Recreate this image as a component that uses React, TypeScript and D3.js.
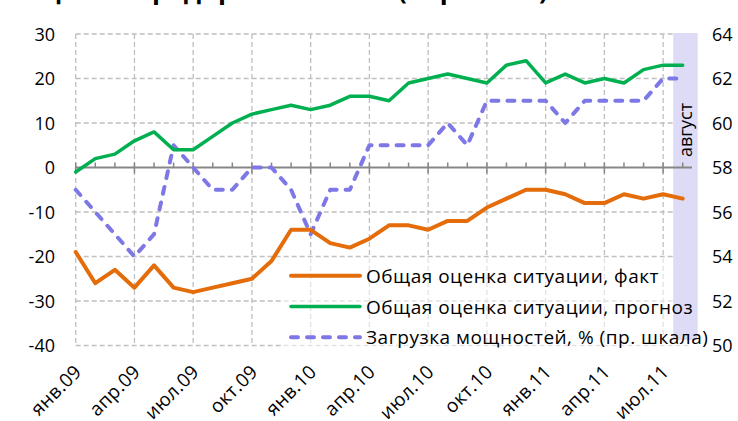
import React from "react";
import * as d3 from "d3";

const tickLabels = ["янв.09","апр.09","июл.09","окт.09","янв.10","апр.10","июл.10","окт.10","янв.11","апр.11","июл.11"];
const fact = [-19,-26,-23,-27,-22,-27,-28,-27,-26,-25,-21,-14,-14,-17,-18,-16,-13,-13,-14,-12,-12,-9,-7,-5,-5,-6,-8,-8,-6,-7,-6,-7];
const forecast = [-1,2,3,6,8,4,4,7,10,12,13,14,13,14,16,16,15,19,20,21,20,19,23,24,19,21,19,20,19,22,23,23];
const capacity = [57,56,55,54,55,59,58,57,57,58,58,57,55,57,57,59,59,59,59,60,59,61,61,61,61,60,61,61,61,61,62,62];
const leftTicks = [30,20,10,0,-10,-20,-30,-40];
const rightTicks = [64,62,60,58,56,54,52,50];
const legendLabels = ["Общая оценка ситуации, факт","Общая оценка ситуации, прогноз","Загрузка мощностей, %  (пр. шкала)"];
const bandLabel = "август";
const bandIndex = 31;

const W = 738, H = 421;
const FONT = "'Open Sans', sans-serif";

export default function App() {
  const x = d3.scaleLinear().domain([0, 31]).range([75.7, 682.7]);
  const yL = d3.scaleLinear().domain([-40, 30]).range([345.5, 34]);
  const yR = d3.scaleLinear().domain([50, 64]).range([345.5, 34]);
  const plotL = x(0), plotR = 692;
  const idx = d3.range(fact.length);
  const mk = (arr: number[], y: d3.ScaleLinear<number, number>) =>
    d3.line<number>().x((_, i) => x(i)).y((v) => y(v))(arr) || "";
  const colors = ["#E46C0A", "#00B050", "#7E78E6"];
  const grid = "#BFBFBF";
  const y0 = yL(0);
  const bandX0 = x(bandIndex) - 9.5;
  const bandX1 = x(bandIndex) + 15;
  return (
    <svg width={W} height={H} style={{ position: "absolute", left: 0, top: 0, background: "#fff" }} fontFamily={FONT}>
      <rect x={0} y={0} width={W} height={H} fill="#fff" />
      {/* partially visible title (cut off at the top) */}
      <text y={-1.5} fontSize={26} fontWeight="bold" fill="#000">
        <tspan x={128} textAnchor="end">Оценки</tspan>
        <tspan x={135} textAnchor="start">предприятий</tspan>
        <tspan x={398} textAnchor="start">(опрос в %)</tspan>
      </text>
      {/* horizontal gridlines */}
      {leftTicks.filter((t) => t !== 0).map((t) => (
        <line key={"h" + t} x1={plotL} x2={690} y1={yL(t)} y2={yL(t)} stroke={grid} strokeWidth={1.3} strokeDasharray="5 3" />
      ))}
      {/* vertical gridlines */}
      {tickLabels.map((_, k) => (
        <line key={"v" + k} x1={x(k * 3)} x2={x(k * 3)} y1={yL(30)} y2={yL(-40)} stroke={grid} strokeWidth={1.3} strokeDasharray="5 3" />
      ))}
      {/* legend background */}
      <rect x={283} y={258} width={412} height={92} fill="#fff" fillOpacity={0.55} />
      {/* band */}
      <rect x={bandX0} y={33} width={bandX1 - bandX0} height={307} fill="#DDDBF5" />
      {/* zero axis */}
      <line x1={plotL} x2={plotR} y1={y0} y2={y0} stroke="#878787" strokeWidth={2} />
      {idx.map((i) => (
        <line key={"t" + i} x1={x(i)} x2={x(i)} y1={y0 - 5} y2={i % 3 === 0 ? y0 + 6 : y0} stroke="#878787" strokeWidth={1.5} />
      ))}
      {/* left axis labels */}
      {leftTicks.map((t) => (
        <text key={"l" + t} x={55} y={yL(t) + 6.5} textAnchor="end" fontSize={18} fill="#000">{t}</text>
      ))}
      {rightTicks.map((t) => (
        <text key={"r" + t} x={712} y={yR(t) + 6.5} textAnchor="start" fontSize={18} fill="#000">{t}</text>
      ))}
      {/* x labels */}
      {tickLabels.map((lab, k) => {
        const px = x(k * 3) + 7, py = 373;
        return (
          <text key={"x" + k} x={px} y={py} textAnchor="end" fontSize={19} letterSpacing={0.3} fill="#000" transform={`rotate(-45 ${px} ${py})`}>{lab}</text>
        );
      })}
      {/* series */}
      <path d={mk(capacity, yR)} fill="none" stroke={colors[2]} strokeWidth={4} strokeDasharray="7 9" strokeLinecap="round" strokeLinejoin="round" />
      <path d={mk(forecast, yL)} fill="none" stroke={colors[1]} strokeWidth={3.5} strokeLinejoin="round" strokeLinecap="round" />
      <path d={mk(fact, yL)} fill="none" stroke={colors[0]} strokeWidth={4} strokeLinejoin="round" strokeLinecap="round" />
      {/* band label */}
      <text x={692} y={130} fontSize={18} textAnchor="middle" transform={`rotate(-90 692 130)`} fill="#000">{bandLabel}</text>
      {/* legend */}
      {legendLabels.map((lab, k) => {
        const ly = 275.7 + k * 30.8;
        return (
          <g key={"lg" + k}>
            <line x1={291} x2={360} y1={ly} y2={ly} stroke={colors[k]} strokeWidth={k === 1 ? 3.5 : 4}
              strokeDasharray={k === 2 ? "7 9" : undefined} strokeLinecap="round" />
            <text x={366} y={ly + 7} fontSize={19} letterSpacing={0.5} fill="#000">{lab}</text>
          </g>
        );
      })}
    </svg>
  );
}
